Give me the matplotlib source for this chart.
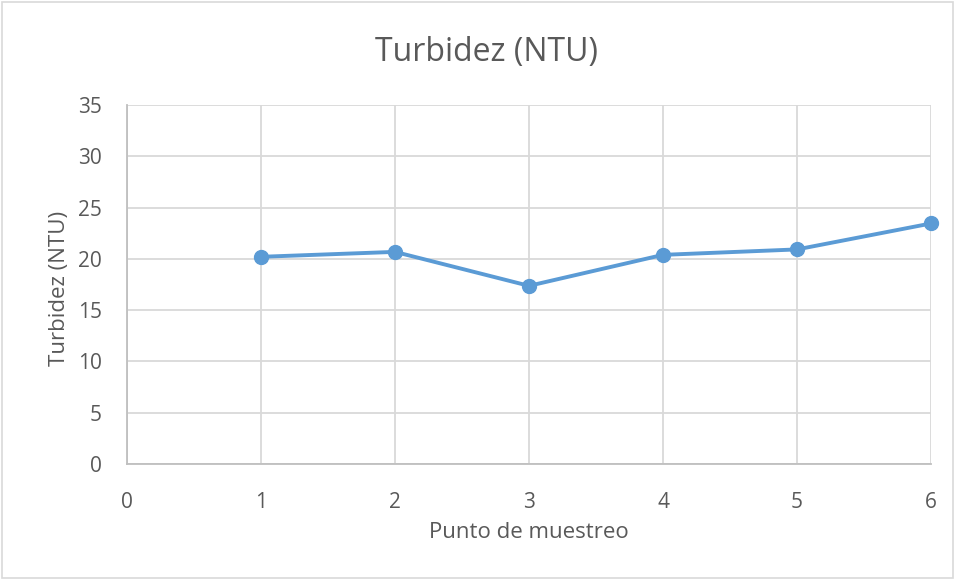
import matplotlib
matplotlib.use("Agg")
import matplotlib.pyplot as plt
from matplotlib.patches import Rectangle

plt.rcParams['font.family'] = ['Open Sans', 'DejaVu Sans']

x_vals = [1, 2, 3, 4, 5, 6]
turbidez = [20.2, 20.68, 17.37, 20.39, 20.92, 23.45]
x_ticks = [0, 1, 2, 3, 4, 5, 6]
y_ticks = [0, 5, 10, 15, 20, 25, 30, 35]

W, H = 955, 579
fig = plt.figure(figsize=(W / 100, H / 100), dpi=100)
ax = fig.add_axes([127 / W, 1 - 464 / H, (931 - 127) / W, (464 - 105) / H])

grid_c = '#d9d9d9'
txt_c = '#595959'
line_c = '#5b9bd5'

ax.plot(x_vals, turbidez, color=line_c, lw=2.8, marker='o', ms=10,
        markerfacecolor=line_c, markeredgecolor=line_c, zorder=3, clip_on=False)

ax.set_xlim(0, 6)
ax.set_ylim(0, 35)
ax.set_xticks(x_ticks)
ax.set_yticks(y_ticks)
ax.grid(True, color=grid_c, lw=1.3)
ax.set_axisbelow(True)
for s in ['top', 'right']:
    ax.spines[s].set_visible(False)
for s in ['left', 'bottom']:
    ax.spines[s].set_color('#bfbfbf')
    ax.spines[s].set_linewidth(1.3)
ax.tick_params(axis='x', length=0, labelsize=15, colors=txt_c, pad=20)
ax.tick_params(axis='y', length=0, labelsize=15, colors=txt_c, pad=18)
ax.set_xlabel('Punto de muestreo', fontsize=16, color=txt_c)
ax.set_ylabel('Turbidez (NTU)', fontsize=16, color=txt_c)
ax.xaxis.set_label_coords(529 / W, 1 - 522 / H, transform=fig.transFigure)
ax.yaxis.set_label_coords(70 / W, 1 - 288 / H, transform=fig.transFigure)
fig.text(486 / W, 1 - 53 / H, 'Turbidez (NTU)', ha='center', va='center', fontsize=23, color=txt_c)

fig.patches.append(Rectangle((0.002, 0.002), 0.996, 0.994, transform=fig.transFigure,
                             fill=False, edgecolor='#d9d9d9', lw=1.2))

fig.savefig('out.png', dpi=100, facecolor='white')
